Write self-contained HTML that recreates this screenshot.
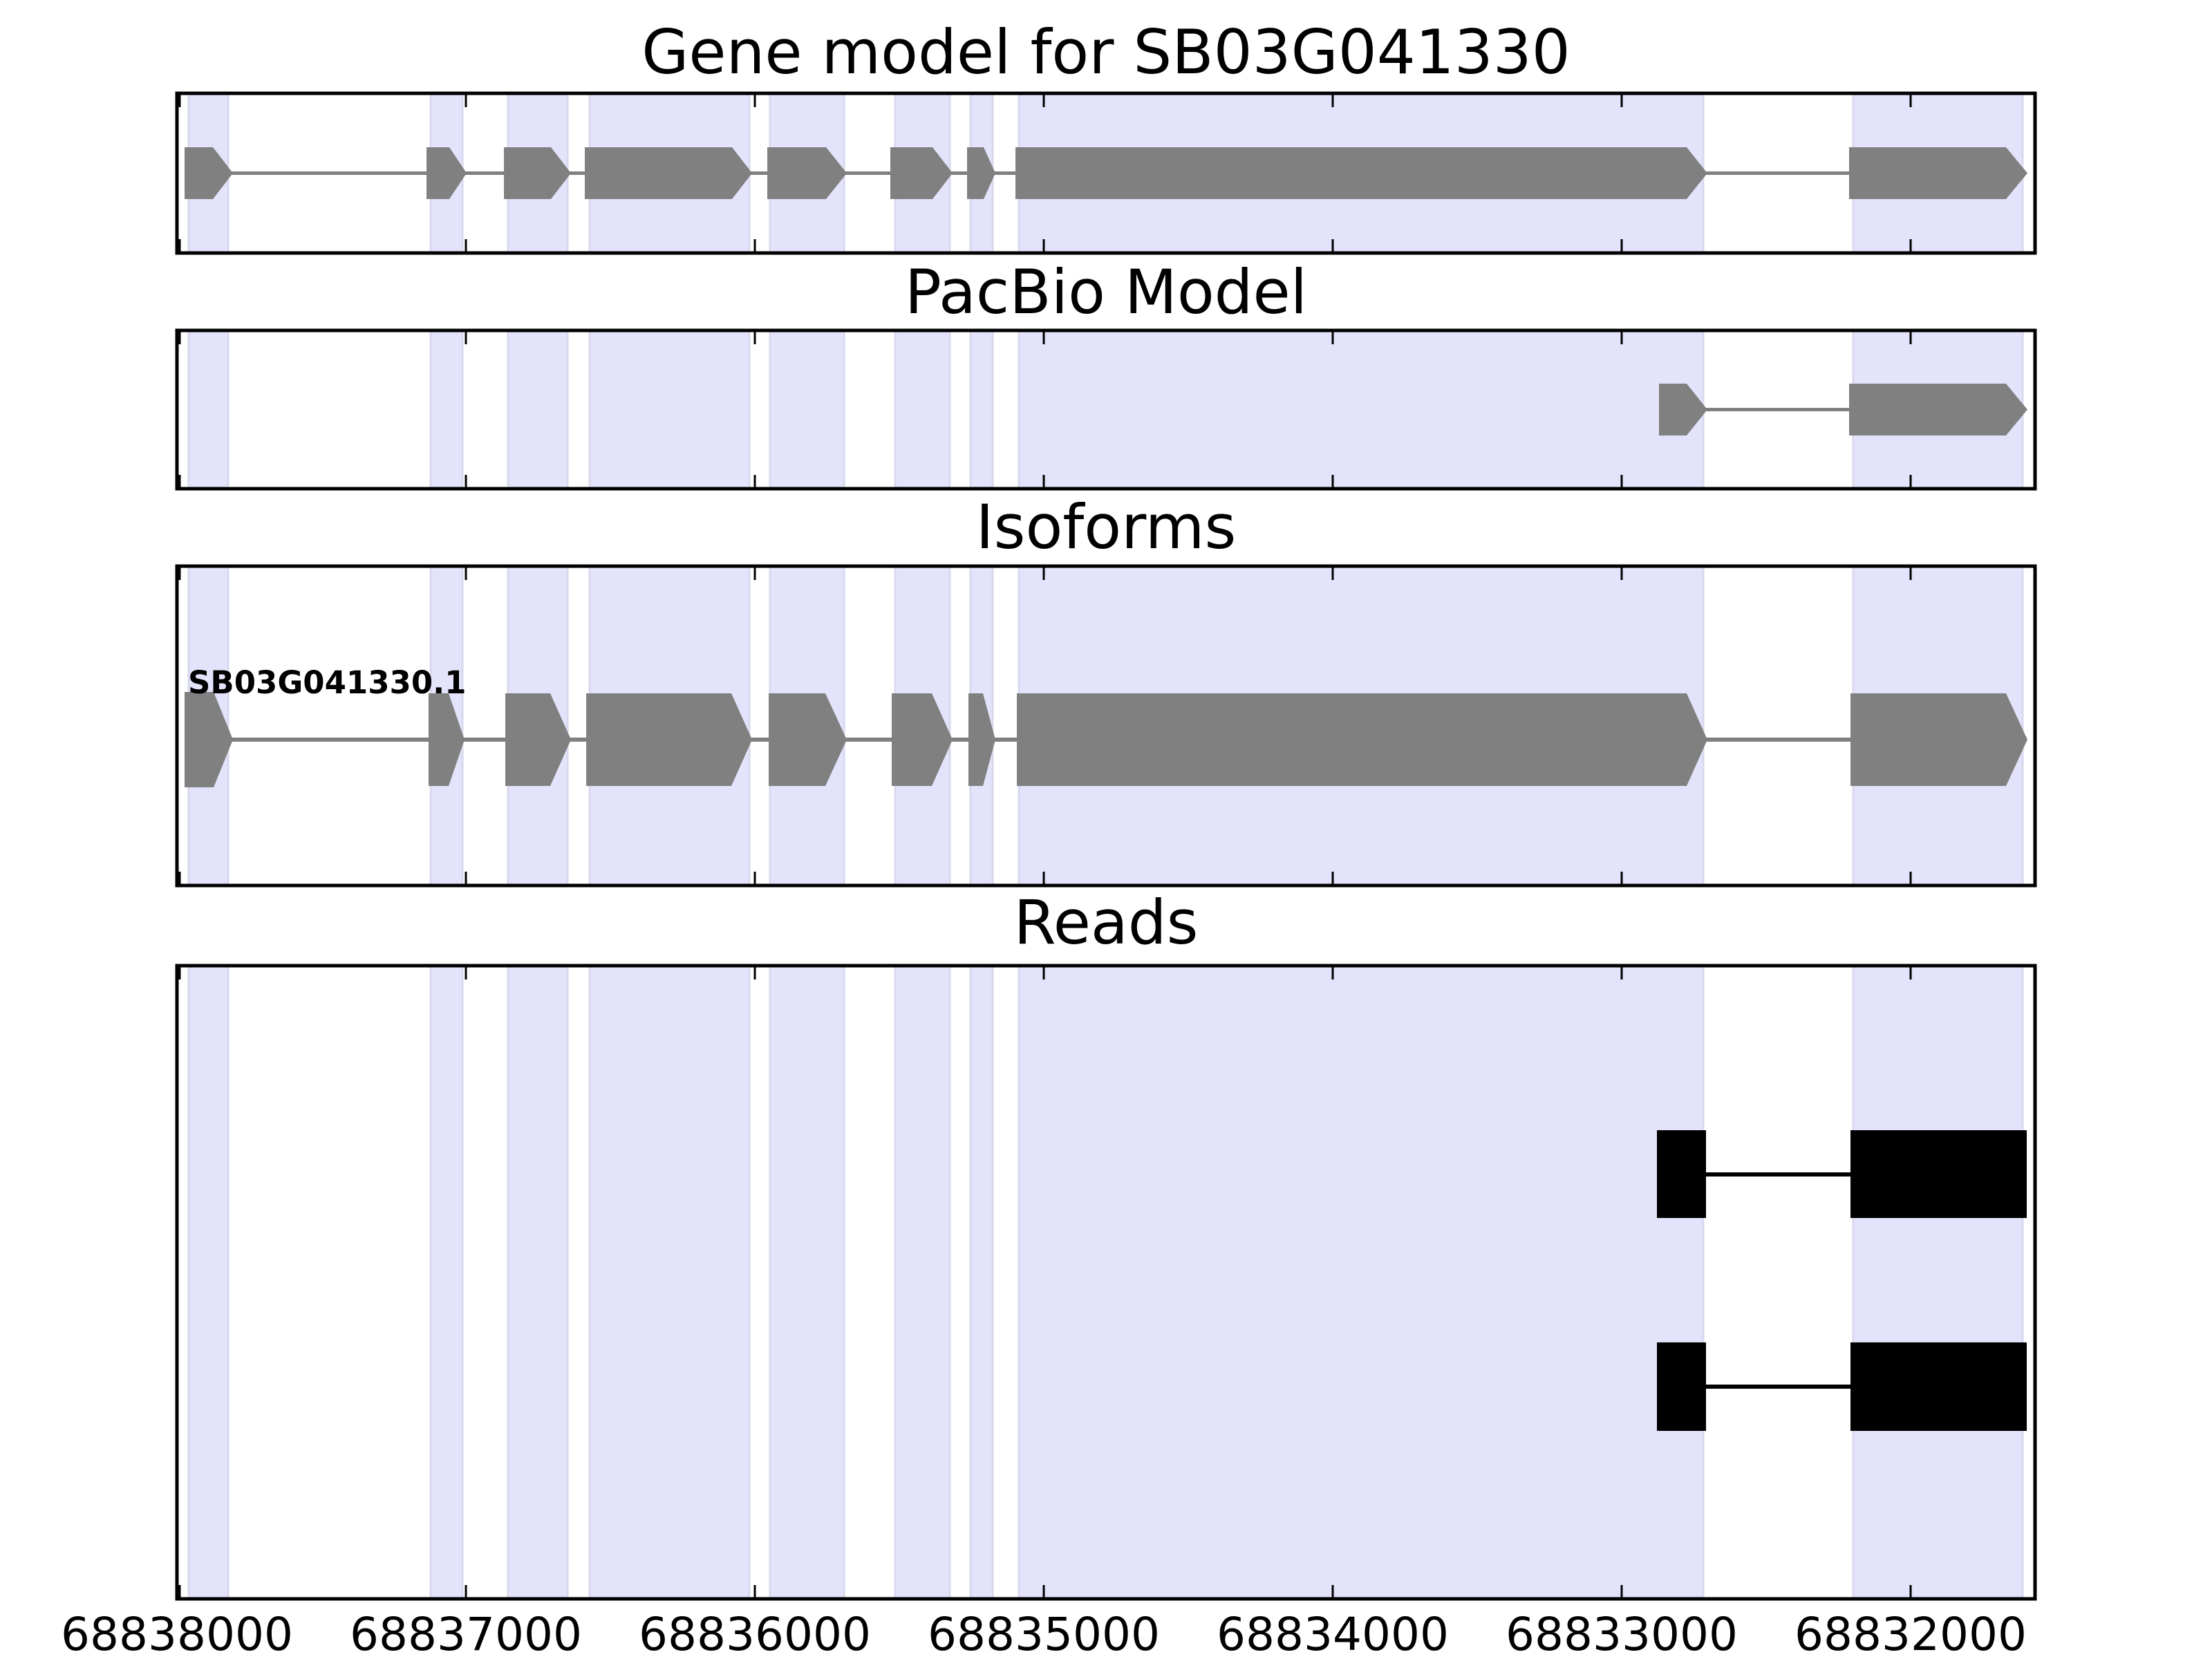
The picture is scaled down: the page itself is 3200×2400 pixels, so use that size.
<!DOCTYPE html>
<html><head><meta charset="utf-8"><style>
html,body{margin:0;padding:0;background:#fff;}
svg{display:block;}
text{font-family:"DejaVu Sans","Liberation Sans",sans-serif;fill:#000;}
</style></head><body>
<svg xmlns="http://www.w3.org/2000/svg" width="3200" height="2400" viewBox="0 0 3200 2400">
<rect width="3200" height="2400" fill="#fff"/>
<text x="1600" y="106" font-size="88" text-anchor="middle">Gene model for SB03G041330</text>
<text x="1600" y="453" font-size="88" text-anchor="middle">PacBio Model</text>
<text x="1600" y="793" font-size="88" text-anchor="middle">Isoforms</text>
<text x="1600" y="1365" font-size="88" text-anchor="middle">Reads</text>

<!-- shades -->
<g fill="#e3e3fc" stroke="#d8d8ee" stroke-width="3">
<g>
<rect x="273" y="135" width="57" height="231"/><rect x="623" y="135" width="46" height="231"/><rect x="735" y="135" width="86" height="231"/><rect x="853" y="135" width="231" height="231"/><rect x="1114" y="135" width="107" height="231"/><rect x="1295" y="135" width="79" height="231"/><rect x="1404" y="135" width="32" height="231"/><rect x="1474" y="135" width="990" height="231"/><rect x="2681" y="135" width="245" height="231"/>
</g>
<g>
<rect x="273" y="478" width="57" height="229"/><rect x="623" y="478" width="46" height="229"/><rect x="735" y="478" width="86" height="229"/><rect x="853" y="478" width="231" height="229"/><rect x="1114" y="478" width="107" height="229"/><rect x="1295" y="478" width="79" height="229"/><rect x="1404" y="478" width="32" height="229"/><rect x="1474" y="478" width="990" height="229"/><rect x="2681" y="478" width="245" height="229"/>
</g>
<g>
<rect x="273" y="819" width="57" height="462"/><rect x="623" y="819" width="46" height="462"/><rect x="735" y="819" width="86" height="462"/><rect x="853" y="819" width="231" height="462"/><rect x="1114" y="819" width="107" height="462"/><rect x="1295" y="819" width="79" height="462"/><rect x="1404" y="819" width="32" height="462"/><rect x="1474" y="819" width="990" height="462"/><rect x="2681" y="819" width="245" height="462"/>
</g>
<g>
<rect x="273" y="1397" width="57" height="916"/><rect x="623" y="1397" width="46" height="916"/><rect x="735" y="1397" width="86" height="916"/><rect x="853" y="1397" width="231" height="916"/><rect x="1114" y="1397" width="107" height="916"/><rect x="1295" y="1397" width="79" height="916"/><rect x="1404" y="1397" width="32" height="916"/><rect x="1474" y="1397" width="990" height="916"/><rect x="2681" y="1397" width="245" height="916"/>
</g>
</g>

<!-- gene model -->
<g fill="#808080">
<rect x="300" y="248" width="2400" height="5"/>
<polygon points="267,213 308,213 337,250.5 308,288 267,288"/>
<polygon points="617,213 650,213 675,250.5 650,288 617,288"/>
<polygon points="729,213 797,213 826,250.5 797,288 729,288"/>
<polygon points="846,213 1059,213 1088,250.5 1059,288 846,288"/>
<polygon points="1110,213 1195,213 1225,250.5 1195,288 1110,288"/>
<polygon points="1288,213 1349,213 1378,250.5 1349,288 1288,288"/>
<polygon points="1399,213 1423,213 1440,250.5 1423,288 1399,288"/>
<polygon points="1469,213 2440,213 2470,250.5 2440,288 1469,288"/>
<polygon points="2675,213 2902,213 2933,250.5 2902,288 2675,288"/>
</g>

<!-- pacbio -->
<g fill="#808080">
<rect x="2460" y="590" width="220" height="5"/>
<polygon points="2400,555 2440,555 2470,592.5 2440,630 2400,630"/>
<polygon points="2675,555 2902,555 2933,592.5 2902,630 2675,630"/>
</g>

<!-- isoforms -->
<g fill="#808080">
<rect x="300" y="1067" width="2400" height="6"/>
<polygon points="267,1001 309,1001 337,1070 309,1139 267,1139"/>
<polygon points="620,1003 649,1003 672,1070 649,1137 620,1137"/>
<polygon points="731,1003 796,1003 826,1070 796,1137 731,1137"/>
<polygon points="848,1003 1058,1003 1088,1070 1058,1137 848,1137"/>
<polygon points="1112,1003 1194,1003 1225,1070 1194,1137 1112,1137"/>
<polygon points="1290,1003 1348,1003 1378,1070 1348,1137 1290,1137"/>
<polygon points="1401,1003 1422,1003 1440,1070 1422,1137 1401,1137"/>
<polygon points="1471,1003 2440,1003 2470,1070 2440,1137 1471,1137"/>
<polygon points="2677,1003 2902,1003 2933,1070 2902,1137 2677,1137"/>
</g>
<text x="272" y="1003" font-size="45" font-weight="bold">SB03G041330.1</text>

<!-- reads -->
<g fill="#000">
<rect x="2468" y="1696" width="209" height="6"/>
<rect x="2397" y="1635" width="71" height="127"/>
<rect x="2677" y="1635" width="255" height="127"/>
<rect x="2468" y="2003" width="209" height="6"/>
<rect x="2397" y="1942" width="71" height="128"/>
<rect x="2677" y="1942" width="255" height="128"/>
</g>

<!-- ticks -->
<g stroke="#000" stroke-width="3">
<path d="M260 135v20M674 135v20M1092 135v20M1510 135v20M1928 135v20M2346 135v20M2764 135v20 M260 366v-20M674 366v-20M1092 366v-20M1510 366v-20M1928 366v-20M2346 366v-20M2764 366v-20"/>
<path d="M260 478v20M674 478v20M1092 478v20M1510 478v20M1928 478v20M2346 478v20M2764 478v20 M260 707v-20M674 707v-20M1092 707v-20M1510 707v-20M1928 707v-20M2346 707v-20M2764 707v-20"/>
<path d="M260 819v20M674 819v20M1092 819v20M1510 819v20M1928 819v20M2346 819v20M2764 819v20 M260 1281v-20M674 1281v-20M1092 1281v-20M1510 1281v-20M1928 1281v-20M2346 1281v-20M2764 1281v-20"/>
<path d="M260 1397v20M674 1397v20M1092 1397v20M1510 1397v20M1928 1397v20M2346 1397v20M2764 1397v20 M260 2313v-20M674 2313v-20M1092 2313v-20M1510 2313v-20M1928 2313v-20M2346 2313v-20M2764 2313v-20"/>
</g>

<!-- frames -->
<g fill="none" stroke="#000" stroke-width="5">
<rect x="256" y="135" width="2688" height="231"/>
<rect x="256" y="478" width="2688" height="229"/>
<rect x="256" y="819" width="2688" height="462"/>
<rect x="256" y="1397" width="2688" height="916"/>
</g>

<g font-size="66" text-anchor="middle">
<text x="256" y="2387">68838000</text>
<text x="674" y="2387">68837000</text>
<text x="1092" y="2387">68836000</text>
<text x="1510" y="2387">68835000</text>
<text x="1928" y="2387">68834000</text>
<text x="2346" y="2387">68833000</text>
<text x="2764" y="2387">68832000</text>
</g>
</svg>
</body></html>
